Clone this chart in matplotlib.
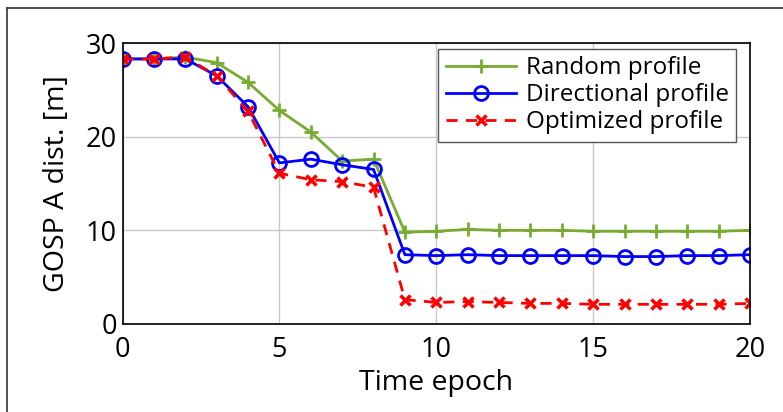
import matplotlib
matplotlib.use('Agg')
import matplotlib.pyplot as plt
from matplotlib.lines import Line2D

plt.rcParams['font.family'] = ['Open Sans', 'DejaVu Sans']

epochs = list(range(21))
random_profile = [28.3, 28.3, 28.5, 27.9, 25.8, 22.8, 20.5, 17.4, 17.6, 9.8, 9.9,
                  10.1, 10.0, 10.0, 10.0, 9.9, 9.9, 9.9, 9.9, 9.9, 10.0]
directional_profile = [28.3, 28.3, 28.3, 26.5, 23.2, 17.2, 17.6, 17.0, 16.5, 7.4, 7.3,
                       7.4, 7.3, 7.3, 7.3, 7.3, 7.2, 7.2, 7.3, 7.3, 7.4]
optimized_profile = [28.3, 28.3, 28.5, 26.5, 22.7, 16.1, 15.4, 15.2, 14.6, 2.6, 2.3,
                     2.4, 2.3, 2.2, 2.2, 2.1, 2.1, 2.1, 2.1, 2.1, 2.2]

fig = plt.figure(figsize=(7.83, 4.12), dpi=100)
ax = fig.add_axes([0.1565, 0.2136, 0.8014, 0.682])

ax.plot(epochs, random_profile, color='#77ac30', lw=2, marker='+', ms=10, mew=2,
        label='Random profile')
ax.plot(epochs, directional_profile, color='blue', lw=2, marker='o', ms=10, mew=2,
        mfc='none', label='Directional profile')
ax.plot(epochs, optimized_profile, color='red', lw=2, ls='--', dashes=(4, 3),
        marker='x', ms=7, mew=2.5, label='Optimized profile')

ax.set_xlim(0, 20)
ax.set_ylim(0, 30)
ax.set_xticks([0, 5, 10, 15, 20])
ax.set_yticks([0, 10, 20, 30])
ax.grid(True, color='#c8c8c8', lw=1)
ax.tick_params(axis='x', labelsize=19.5, length=0, pad=9)
ax.tick_params(axis='y', labelsize=19.5, length=0, pad=4)
ax.set_xlabel('Time epoch', fontsize=20.5, labelpad=3)
ax.set_ylabel('GOSP A dist. [m]', fontsize=20.5, labelpad=11)
for s in ax.spines.values():
    s.set_linewidth(1.2)

leg = ax.legend(loc='upper right', fontsize=17.5, fancybox=False, edgecolor='#555555',
                framealpha=1, handlelength=2.9, borderpad=0.3, labelspacing=0.12,
                handletextpad=0.4, borderaxespad=0, bbox_to_anchor=(0.978, 0.978))
leg.get_frame().set_linewidth(1)

# outer frame (only top and left edges visible in the original)
fig.add_artist(Line2D([7 / 783, 1], [1 - 8 / 412, 1 - 8 / 412], transform=fig.transFigure,
                      color='#333333', lw=1.2))
fig.add_artist(Line2D([7 / 783, 7 / 783], [0, 1 - 8 / 412], transform=fig.transFigure,
                      color='#333333', lw=1.2))

fig.savefig('out.png', dpi=100)
